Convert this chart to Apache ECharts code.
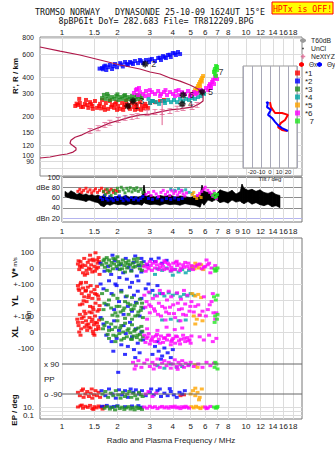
<!DOCTYPE html>
<html><head><meta charset="utf-8">
<script src="https://cdn.jsdelivr.net/npm/echarts@6/dist/echarts.min.js"></script>
<style>html,body{margin:0;padding:0;background:#fff}#c{width:335px;height:451px}</style>
</head><body><div id="c"></div><script>
// ---------- tick labels ----------
const FREQ_TICKS = [1,1.5,2,3,4,5,6,7,8,10,12,14,16,18];
const FREQ_TICKS_MID = [1,1.5,2,3,4,5,6,7,8,9,10,12,14,16,18];
const HEIGHT_TICKS = [80,90,100,120,150,200,300,400,600,800];
const DBE_TICKS = [20,40,60,80,100];
const TRACES = ['*1','*2','*3','*4','*5','*6','7'];

// ---------- profile (MHz, km) ----------
const profileNe = [[0.759,95.5],[0.861,97.2],[0.975,100.7],[1.065,102.5],[1.148,106],[1.191,110],[1.191,114],[1.133,120],[1.105,124],[1.118,131],[1.177,138],[1.285,144],[1.420,154],[1.609,165],[1.823,178],[2.067,187],[2.342,197],[2.654,205],[3.008,208],[3.409,216],[3.863,224],[4.378,228],[5.15,236],[5.55,249],[5.84,262],[5.84,291],[5.48,324],[4.96,348],[4.38,373],[3.86,394],[3.41,423],[3.01,438],[2.65,462],[2.07,496],[1.61,542],[1.25,592],[0.975,635],[0.759,682]];
const nextyz = [[1.42,154],[1.57,162],[1.71,171],[1.82,178],[2.02,187],[2.20,194],[2.40,197],[2.56,201],[2.90,212],[3.20,216],[3.50,216],[3.86,220],[4.22,228],[4.55,232],[5.09,236],[5.42,244]];
const nextyzErr = [[3.50,171],[3.50,267]];
// tilt (deg, km)
const thetaX = [[0,257],[1.1,235],[5.6,212],[13.3,212],[20,205],[16.7,187],[12.2,178],[8.9,165],[13.3,157],[18.9,154]];
const thetaY = [[-4.4,253],[-2.2,257],[-3.3,235],[1.1,224],[-2.2,205],[2.2,194],[5.6,181],[8.9,171],[13.3,162],[20,154]];

// ---------- echo heights R' (MHz, km) ----------
const hgt1 = [[1.22,244],[1.25,253],[1.30,236],[1.33,249],[1.39,232],[1.42,257],[1.46,240],[1.51,262],[1.55,232],[1.61,249],[1.65,267],[1.69,236],[1.73,253],[1.78,228],[1.82,262],[1.87,244],[1.92,232],[1.97,257],[2.02,240],[2.07,228],[2.12,253],[2.17,236],[2.23,262],[2.28,244],[2.34,228],[2.40,253],[2.46,236],[2.52,249],[2.59,228],[2.65,257],[2.72,240],[2.83,249],[2.93,232],[3.01,253],[3.20,257],[3.41,262],[3.58,267],[1.24,272],[1.35,267],[1.18,240],[1.27,236],[1.37,244],[1.47,228],[1.59,240],[1.71,224],[1.85,236],[1.99,224],[2.15,224],[2.31,236],[2.49,224],[2.69,224],[2.86,240],[1.20,250],[1.44,248],[1.63,230],[1.94,248],[2.20,245],[2.55,240],[2.78,230],[3.10,262]];
const hgt2 = [[1.65,470],[1.69,483],[1.74,454],[1.78,477],[1.82,496],[1.87,462],[1.94,505],[1.99,477],[2.07,513],[2.14,483],[2.20,523],[2.28,496],[2.34,523],[2.43,505],[2.49,532],[2.59,513],[2.65,542],[2.76,513],[2.86,542],[2.97,523],[3.08,552],[3.20,532],[3.33,561],[3.45,542],[3.54,581],[3.67,561],[3.76,592],[3.90,571],[4.00,613],[4.16,592],[4.27,624],[4.38,602],[1.72,490],[1.90,485],[2.10,500],[2.38,515],[2.70,530],[3.00,545],[3.40,565],[3.85,595],[1.67,460],[2.25,505],[1.60,465],[4.10,610],[3.60,570]];
const hgt3 = [[1.65,276],[1.69,292],[1.73,272],[1.78,286],[1.82,267],[1.87,281],[1.92,272],[1.97,286],[2.02,267],[2.07,281],[2.12,272],[2.17,286],[2.23,267],[2.28,281],[2.34,272],[2.40,286],[2.46,267],[2.52,281],[2.59,272],[2.65,286],[2.72,276],[1.76,297],[2.20,291],[2.00,295],[2.55,292]];
const hgt4 = [[3.01,253],[3.12,262],[3.24,257],[3.37,249],[3.50,262],[3.63,253],[3.77,267],[3.91,257],[4.06,267],[4.22,257],[4.38,272],[4.55,262],[4.72,272],[4.90,267],[5.09,276],[5.28,272],[5.48,281],[5.69,286],[5.91,297],[3.08,262],[3.58,262],[2.95,272]];
const hgt5 = [[5.09,297],[5.22,307],[5.28,318],[5.42,330],[5.48,342],[5.55,354],[5.62,367],[5.69,380],[5.77,394],[5.84,408],[5.35,302],[5.62,342],[5.50,320],[5.75,370]];
const hgt6 = [[2.46,302],[2.52,318],[2.59,291],[2.65,307],[2.76,297],[2.86,313],[2.97,291],[3.08,307],[3.20,297],[3.33,313],[3.45,297],[3.58,307],[3.72,291],[3.86,307],[4.01,297],[4.16,313],[4.32,291],[4.49,307],[4.66,297],[4.84,313],[5.02,297],[5.22,307],[5.42,302],[5.62,318],[5.84,313],[6.06,330],[6.22,318],[6.29,342],[6.37,354],[6.45,330],[6.54,367],[6.62,380],[6.70,354],[6.78,394],[6.87,408],[6.96,387],[2.55,324],[2.83,286],[3.41,286],[4.11,286],[4.96,286],[2.62,330],[3.00,318],[3.65,318],[4.30,318],[5.30,295],[6.40,345]];
const hgt7 = [[6.70,438],[6.78,462],[6.87,487],[6.96,454],[6.78,423],[6.87,408],[6.96,479],[6.75,450]];
const markIds = ['1','2','3','4','5','6'];
const markPts = [[2.28,240],[2.83,505],[2.43,262],[4.49,249],[5.77,307],[4.55,291]];
const mark7 = [[6.96,438]];

// ---------- amplitude dBe ----------
const ampFreq = [1.038,1.078,1.119,1.162,1.206,1.253,1.300,1.350,1.402,1.456,1.511,1.569,1.629,1.691,1.756,1.823,1.917,2.015,2.119,2.227,2.342,2.462,2.588,2.721,2.790,2.861,3.008,3.202,3.409,3.629,3.863,4.113,4.378,4.661,4.962,5.283,5.623,5.766,5.912,6.215,6.535,6.871,7.222,7.593,7.983,8.393,8.824,9.277,9.513,9.753,10.25,10.78,11.33,11.91,12.52,13.17,13.85,14.56,15.30];
const ampHi = [72,68,73,70,66,69,65,67,64,66,63,65,62,64,60,62,60,63,61,64,60,62,61,63,84,62,65,61,64,62,65,61,63,62,60,63,64,84,72,70,68,66,75,72,70,74,67,71,86,78,74,76,72,75,70,68,71,66,64];
const ampLo = [62,60,58,57,56,55,54,52,55,53,51,50,44,42,47,45,48,46,47,45,48,46,47,45,50,48,46,47,45,48,46,47,45,48,46,45,41,50,45,55,52,56,50,52,49,55,51,53,50,48,52,47,50,46,44,47,42,44,40];
const amp1 = [[1.22,72],[1.25,76],[1.28,70],[1.31,74],[1.35,78],[1.38,71],[1.42,75],[1.45,69],[1.49,73],[1.52,77],[1.56,70],[1.60,74],[1.64,78],[1.68,71],[1.72,75],[1.76,69],[1.80,73],[1.85,76],[1.90,70],[1.95,74],[2.00,72]];
const amp2 = [[1.62,60],[1.66,56],[1.70,64],[1.74,58],[1.78,55],[1.82,62],[1.86,57],[1.90,54],[1.95,60],[2.00,56],[2.05,63],[2.10,58],[2.15,54],[2.20,61],[2.25,57],[2.30,55],[2.38,60],[2.45,56],[2.52,59],[2.60,55],[2.68,58],[2.75,62],[2.95,58],[3.10,56],[3.30,59],[3.50,55],[3.70,58],[3.90,56],[4.10,59],[4.30,56],[4.50,58]];
const amp3 = [[1.68,72],[1.72,66],[1.76,76],[1.80,70],[1.85,64],[1.90,74],[1.95,68],[2.00,78],[2.05,72],[2.10,80],[2.15,75],[2.20,69],[2.25,78],[2.30,73],[2.35,79],[2.40,71],[2.45,77],[2.50,74],[2.55,79],[2.60,72],[2.68,76],[2.75,70]];
const amp4 = [[3.90,76],[4.10,74],[4.30,77],[4.50,73],[4.70,75],[4.90,70],[5.10,68]];
const amp5 = [[5.10,66],[5.25,62],[5.40,58],[5.55,64],[5.70,60],[5.20,70]];
const amp6 = [[2.86,66],[2.95,70],[3.05,64],[3.15,72],[3.25,67],[3.35,62],[3.45,70],[3.55,74],[3.65,66],[3.75,71],[3.85,64],[3.95,73],[4.05,68],[4.15,72],[4.25,65],[4.35,70],[4.45,74],[4.55,67],[4.65,63],[4.75,69],[5.45,64],[5.60,68],[5.75,72],[5.90,76],[6.00,80],[6.20,74],[6.35,70],[6.50,66],[6.60,62],[6.90,58],[6.70,72]];
const amp7 = [[6.60,64],[6.75,68],[6.90,62],[7.00,66],[6.80,60]];

// ---------- V* (m/s) ----------
const vst1 = [[1.22,25],[1.24,-10],[1.26,40],[1.28,5],[1.30,-30],[1.32,60],[1.34,15],[1.36,-15],[1.38,35],[1.40,0],[1.42,80],[1.44,20],[1.46,-25],[1.48,45],[1.50,10],[1.52,95],[1.54,-5],[1.56,30],[1.58,65],[1.60,-40],[1.47,55],[1.33,-45],[1.25,10],[1.55,50],[1.43,-8],[1.23,45],[1.29,20],[1.37,-35],[1.41,50],[1.51,-20],[1.57,5],[1.59,40]];
const vst2 = [[1.62,30],[1.70,-20],[1.78,10],[1.85,-40],[1.93,45],[2.00,-5],[2.08,20],[2.15,-30],[2.22,60],[2.30,5],[2.38,-15],[2.45,35],[2.55,-50],[2.62,15],[2.70,-25],[2.78,40],[1.88,80],[2.25,-70],[2.50,75],[2.40,-90],[2.05,-60],[1.95,-100],[2.60,-80],[2.70,60],[3.05,55],[3.20,40],[3.35,62],[3.50,30],[3.70,48],[2.90,20]];
const vst3 = [[1.65,20],[1.68,45],[1.71,5],[1.74,30],[1.77,-15],[1.80,50],[1.83,15],[1.86,35],[1.89,-5],[1.92,25],[1.95,55],[1.98,10],[2.02,40],[2.06,-10],[2.10,30],[2.14,50],[2.18,15],[2.22,35],[2.26,0],[2.30,45],[2.34,20],[2.38,-20],[2.42,30],[2.46,55],[2.50,10],[2.55,40],[2.60,20],[2.65,-5],[2.70,35],[2.75,15],[1.75,65],[2.00,70],[2.20,-25],[1.70,55],[1.82,-20],[1.90,60],[2.04,20],[2.12,-5],[2.28,25],[2.44,5],[2.58,60],[2.72,-15]];
const vst4 = [[3.30,-5],[3.50,-15],[3.70,0],[3.90,-20],[4.10,-8],[4.30,-25],[4.50,-10],[4.70,-30],[4.90,-15],[5.10,0],[3.20,-40],[4.00,-45]];
const vst5 = [[5.10,10],[5.25,-5],[5.40,15],[5.55,0],[5.70,20],[5.85,-10],[5.30,30]];
const vst6 = [[2.80,10],[2.88,25],[2.96,-5],[3.04,15],[3.12,30],[3.20,0],[3.28,20],[3.36,-10],[3.45,25],[3.54,10],[3.63,35],[3.72,-5],[3.82,20],[3.92,5],[4.02,30],[4.12,-10],[4.22,15],[4.32,25],[4.43,0],[4.55,20],[4.67,35],[4.80,10],[4.93,-5],[5.05,15],[5.30,10],[5.60,25],[5.90,5],[6.20,20],[6.50,0],[6.80,15],[3.00,40],[3.60,45],[4.20,42],[2.85,-20],[3.90,-18],[6.10,50],[6.40,-30],[2.92,5],[3.08,-15],[3.24,40],[3.40,5],[3.58,-10],[3.76,30],[3.96,-10],[4.16,35],[4.38,-15],[4.60,5],[4.86,30],[5.15,-10],[5.45,20],[5.75,-5],[6.00,10],[6.30,30]];
const vst7 = [[6.75,-5],[6.90,-15],[7.00,0],[6.80,-20]];

// ---------- YL (km) ----------
const yl1 = [[1.22,90],[1.24,60],[1.26,100],[1.28,40],[1.30,75],[1.32,20],[1.34,55],[1.36,-10],[1.38,80],[1.40,30],[1.42,-40],[1.44,50],[1.46,10],[1.48,-60],[1.50,65],[1.52,-20],[1.54,35],[1.56,-70],[1.58,5],[1.60,-35],[1.35,110],[1.45,-80],[1.55,85],[1.29,-25],[1.23,70],[1.27,110],[1.31,-5],[1.35,60],[1.39,15],[1.43,90],[1.47,-45],[1.51,40],[1.57,25],[1.59,-60],[1.25,-30],[1.41,-75]];
const yl2 = [[1.62,100],[1.68,70],[1.74,-30],[1.80,120],[1.86,40],[1.92,-60],[1.98,90],[2.04,-10],[2.10,60],[2.16,-90],[2.22,20],[2.28,-40],[2.34,80],[2.40,-70],[2.46,30],[2.52,-15],[2.58,55],[2.64,-100],[2.70,10],[2.76,-50],[2.85,70],[2.95,100],[3.10,60],[3.30,90],[3.50,40]];
const yl3 = [[1.65,40],[1.70,-20],[1.75,60],[1.80,0],[1.85,-50],[1.90,30],[1.95,-80],[2.00,10],[2.05,-40],[2.10,50],[2.15,-65],[2.20,-10],[2.25,25],[2.30,-90],[2.35,-30],[2.40,15],[2.45,-55],[2.50,-100],[2.55,-20],[2.60,-75],[2.65,5],[2.70,-45],[2.75,-110],[2.00,-100],[2.20,-115],[2.40,-120],[1.68,-60],[1.78,-30],[1.88,-95],[1.98,-40],[2.08,-75],[2.18,-50],[2.28,-20],[2.38,-60],[2.48,-35],[2.58,-95],[2.68,-65],[2.72,-20]];
const yl4 = [[3.00,45],[3.20,30],[3.40,40],[3.60,25],[3.80,45],[4.00,30],[4.20,40],[4.40,20],[4.60,35],[4.80,25],[5.00,40],[5.20,30],[3.50,-125],[3.90,-120],[4.30,-130],[4.70,-125]];
const yl5 = [[5.10,40],[5.30,25],[5.50,35],[5.70,15],[5.20,-100],[5.40,-120],[5.60,-95],[5.80,-130],[5.30,-150]];
const yl6 = [[2.80,30],[2.88,-10],[2.96,50],[3.04,-40],[3.12,10],[3.20,-70],[3.28,25],[3.36,-20],[3.45,-100],[3.54,40],[3.63,-50],[3.72,0],[3.82,-85],[3.92,20],[4.02,-30],[4.12,-110],[4.22,45],[4.32,-60],[4.43,5],[4.55,-90],[4.67,-25],[4.80,30],[4.93,-70],[5.05,-10],[5.30,-40],[5.60,-95],[5.90,20],[6.20,-60],[6.50,-10],[6.80,-120],[3.00,-80],[3.40,60],[3.80,55],[4.60,60],[2.90,-120],[3.65,-125],[4.40,-130],[6.60,40],[6.90,-80],[2.84,-45],[2.98,-30],[3.16,-55],[3.32,-90],[3.50,-40],[3.68,-75],[3.86,-45],[4.06,-85],[4.26,-20],[4.48,-55],[4.72,-95],[4.98,-40],[5.20,-75],[5.50,-30],[5.80,-70],[6.05,-100],[6.35,-30],[6.65,-80]];
const yl7 = [[6.70,20],[6.85,0],[7.00,30],[6.80,-100],[6.95,-120],[6.75,-140],[7.00,-90]];

// ---------- XL (km) ----------
const xl1 = [[1.21,80],[1.23,40],[1.25,110],[1.27,20],[1.29,60],[1.31,95],[1.33,30],[1.35,70],[1.37,10],[1.39,50],[1.41,90],[1.43,25],[1.45,65],[1.47,5],[1.49,45],[1.51,100],[1.53,15],[1.55,55],[1.57,35],[1.59,75],[1.32,130],[1.48,-10],[1.26,-20],[1.22,60],[1.28,85],[1.34,115],[1.40,30],[1.46,80],[1.52,60],[1.58,20],[1.24,0],[1.36,45],[1.50,-20]];
const xl2 = [[1.62,90],[1.68,50],[1.74,-20],[1.80,30],[1.86,-60],[1.92,70],[1.98,-40],[2.04,10],[2.10,-80],[2.16,40],[2.22,-10],[2.28,-90],[2.34,60],[2.40,-30],[2.46,-110],[2.52,20],[2.58,-70],[2.64,-130],[2.70,0],[2.76,-50],[2.20,-140],[2.50,-160],[1.90,-120],[3.20,-90],[3.35,-120],[3.50,-150],[3.60,-100],[3.75,-130],[3.90,-160],[3.45,-170],[3.30,-60],[4.00,-110],[3.10,-140]];
const xl3 = [[1.65,80],[1.70,40],[1.75,60],[1.80,10],[1.85,50],[1.90,-20],[1.95,30],[2.00,70],[2.05,-10],[2.10,40],[2.15,0],[2.20,55],[2.25,-30],[2.30,20],[2.35,-5],[2.40,45],[2.45,-25],[2.50,15],[2.55,-35],[2.60,25],[2.65,-15],[2.70,35],[2.75,-30],[1.80,-40],[2.10,-50],[2.40,-45],[1.95,-60],[1.67,20],[1.77,-15],[1.87,15],[1.97,-25],[2.07,25],[2.17,-40],[2.27,10],[2.37,-45],[2.47,5],[2.57,-20],[2.67,-50],[2.73,5]];
const xl4 = [];
const xl5 = [];
const xl6 = [[2.80,-20],[2.88,-40],[2.96,-10],[3.04,-55],[3.12,-30],[3.20,-60],[3.28,-15],[3.36,-45],[3.45,-25],[3.54,-65],[3.63,-35],[3.72,-50],[3.82,-20],[3.92,-60],[4.02,-40],[4.12,-70],[4.22,-30],[4.32,-55],[4.43,-45],[4.55,-20],[4.67,-60],[4.80,-35],[4.93,-50],[5.05,-25],[2.90,20],[3.30,10],[3.70,30],[4.10,15],[4.50,25],[3.00,-75],[3.90,-80],[5.60,-30],[5.90,-50],[6.30,-20],[6.60,-60],[6.90,-40],[2.84,-65],[2.92,-30],[3.08,-45],[3.24,-25],[3.40,-70],[3.58,-40],[3.76,-20],[3.96,-50],[4.16,-25],[4.38,-75],[4.62,-40],[4.86,-55],[5.00,-70]];
const xl7 = [];

// ---------- PP (deg) ----------
const pp1 = [[1.22,-80],[1.25,-100],[1.28,-70],[1.31,-110],[1.34,-90],[1.37,-75],[1.40,-105],[1.43,-85],[1.46,-115],[1.49,-95],[1.52,-70],[1.55,-100],[1.58,-80],[1.61,-110],[1.30,-60],[1.45,-60],[4.40,-100],[4.60,-95]];
const pp2 = [[1.64,-70],[1.72,-100],[1.80,-60],[1.88,-90],[1.96,-115],[2.04,-65],[2.12,-95],[2.20,-70],[2.28,-110],[2.36,-60],[2.44,-80],[2.52,-65],[2.62,-90],[2.72,-70],[2.85,-100],[3.00,-80],[3.15,-95],[3.30,-70],[3.45,-105],[3.60,-85],[3.75,-100],[3.90,-75],[4.05,-95],[4.20,-110],[4.35,-80],[4.50,-90],[4.65,-70],[3.05,-60],[3.40,-60],[3.85,-58],[2.02,40]];
const pp3 = [[1.66,-90],[1.72,-75],[1.78,-110],[1.84,-85],[1.90,-100],[1.96,-70],[2.02,-95],[2.08,-115],[2.14,-80],[2.20,-105],[2.26,-90],[2.32,-75],[2.38,-110],[2.44,-85],[2.50,-100],[2.56,-120],[2.62,-80],[2.68,-95],[2.74,-105]];
const pp4 = [[3.30,80],[3.60,65],[3.90,90],[4.20,70],[4.50,75],[4.90,85]];
const pp5 = [[5.30,85],[5.45,70],[5.00,-90],[5.15,-70],[5.30,-100],[5.45,-80],[5.60,-110],[5.75,-60],[5.30,-55],[5.55,-125]];
const pp6 = [[2.43,100],[2.52,80],[2.60,110],[2.70,70],[2.80,95],[2.90,115],[3.00,75],[3.10,100],[3.20,85],[3.30,120],[3.40,70],[3.50,95],[3.60,110],[3.70,80],[3.80,100],[3.90,65],[4.00,90],[4.10,115],[4.20,75],[4.30,100],[4.40,85],[4.50,110],[4.60,70],[4.70,95],[4.85,80],[5.00,100],[5.20,75],[5.50,90],[5.80,70],[6.10,100],[6.40,80],[6.70,95],[2.48,60],[3.15,60],[4.25,58],[2.85,-90],[2.95,-75],[3.10,-105],[3.25,-85]];
const pp7 = [[6.75,70],[6.90,90],[7.00,60],[6.80,100]];
const ppLevels = [90,-90];

// ---------- EP (deg) ----------
const ep1 = [[1.22,10],[1.26,20],[1.30,5],[1.34,15],[1.38,8],[1.42,25],[1.46,4],[1.50,12],[1.54,6],[1.58,18],[1.62,9],[1.66,3],[1.70,14],[1.28,30],[1.48,2.5]];
const ep2 = [[1.65,15],[1.75,25],[1.85,10],[2.00,20],[2.20,12],[2.40,18],[2.60,22],[2.70,9],[1.92,14]];
const ep3 = [[1.70,5],[1.76,12],[1.82,3],[1.88,8],[1.94,2],[2.00,15],[2.06,4],[2.12,9],[2.18,2.5],[2.24,6],[2.30,12],[2.36,3],[2.42,7],[2.48,2],[2.54,10],[2.60,4],[2.66,6],[2.72,2.5]];
const ep4 = [];
const ep5 = [[5.05,12],[5.20,6],[5.35,15],[5.50,8],[5.65,4],[5.80,10]];
const ep6 = [[2.80,10],[2.90,5],[3.00,15],[3.10,7],[3.20,12],[3.30,4],[3.40,9],[3.50,14],[3.60,6],[3.70,11],[3.80,5],[3.90,13],[4.00,8],[4.10,16],[4.20,6],[4.30,10],[4.40,4],[4.50,12],[4.60,7],[4.70,15],[4.80,9],[4.90,5],[6.00,10],[6.20,6],[6.40,14],[6.10,4]];
const ep7 = [[6.70,10],[6.85,5],[7.00,14],[6.95,7]];

// ================= build =================
const LG = Math.log10;
const FONT = 'Liberation Sans, Arial, sans-serif';
const COLORS = ['#ff0000','#0000ff','#1e8c1e','#00a5a5','#ffa500','#ff00ff','#22e622'];
const XMIN = LG(0.759), XMAX = LG(20.15);
const FT = FREQ_TICKS.map(LG), FTM = FREQ_TICKS_MID.map(LG), HT = HEIGHT_TICKS.map(LG);
const fmtF = v => String(Math.round(Math.pow(10, v) * 10) / 10);
const AXL = {fontSize: 8, color: '#222', fontFamily: FONT, hideOverlap: false};
const GRIDC = '#dcdcdc';

const hgtSets = [hgt1,hgt2,hgt3,hgt4,hgt5,hgt6,hgt7];
const ampSets = [amp1,amp2,amp3,amp4,amp5,amp6,amp7];
const vstSets = [vst1,vst2,vst3,vst4,vst5,vst6,vst7];
const ylSets = [yl1,yl2,yl3,yl4,yl5,yl6,yl7];
const xlSets = [xl1,xl2,xl3,xl4,xl5,xl6,xl7];
const ppSets = [pp1,pp2,pp3,pp4,pp5,pp6,pp7];
const epSets = [ep1,ep2,ep3,ep4,ep5,ep6,ep7];

function sc(name, color, data, ax, size, ty) {
  return {type: 'scatter', name, xAxisIndex: ax, yAxisIndex: ax, symbol: 'rect', symbolSize: size,
    itemStyle: {color}, silent: true, z: 2,
    data: data.map(p => [LG(p[0]), ty ? ty(p[1]) : p[1]])};
}

const cRect = {left: 40, top: 238, width: 262, height: 181};
const grid = [
  {left: 40, top: 37, width: 262, height: 139, show: true, borderColor: '#888', borderWidth: 1},
  {left: 243, top: 66, width: 54, height: 102, show: true, borderColor: '#999', borderWidth: 1, backgroundColor: '#fff', z: 3},
  {left: 62, top: 177, width: 240, height: 45, show: true, borderColor: '#777', borderWidth: 1},
  Object.assign({show: true, borderColor: '#777', borderWidth: 1}, cRect),
  Object.assign({}, cRect), Object.assign({}, cRect), Object.assign({}, cRect), Object.assign({}, cRect)
].map(g => Object.assign({containLabel: false, outerBoundsMode: 'none'}, g));

const xAxis = [
  {gridIndex: 0, type: 'value', position: 'top', min: XMIN, max: XMAX, axisLine: {show: false},
    axisTick: {show: false, customValues: FT}, axisLabel: Object.assign({}, AXL, {customValues: FT, formatter: fmtF, margin: 1}),
    splitLine: {show: true, lineStyle: {color: GRIDC}}},
  {gridIndex: 1, type: 'value', min: -30, max: 30, interval: 10, z: 4, axisLine: {show: false}, axisTick: {show: false},
    axisLabel: {fontSize: 6, color: '#222', margin: 1, showMinLabel: false, showMaxLabel: false, hideOverlap: false, fontFamily: FONT},
    splitLine: {show: true, lineStyle: {color: '#a8a8b8'}},
    name: 'Tilt / deg', nameLocation: 'middle', nameGap: 8, nameTextStyle: {fontSize: 6, color: '#222', fontFamily: FONT}},
  {gridIndex: 2, type: 'value', position: 'bottom', min: 0, max: XMAX, axisLine: {show: false},
    axisTick: {show: false, customValues: FTM}, axisLabel: Object.assign({}, AXL, {customValues: FTM, formatter: fmtF, margin: 5}),
    splitLine: {show: true, lineStyle: {color: GRIDC}}},
  {gridIndex: 3, type: 'value', position: 'bottom', min: XMIN, max: XMAX, axisLine: {show: false},
    axisTick: {show: false, customValues: FT}, axisLabel: Object.assign({}, AXL, {customValues: FT, formatter: fmtF, margin: 3}),
    splitLine: {show: true, lineStyle: {color: GRIDC}},
    name: 'Radio and Plasma Frequency / MHz', nameLocation: 'middle', nameGap: 17,
    nameTextStyle: {fontSize: 8, color: '#222', fontFamily: FONT}},
  {gridIndex: 4, type: 'value', min: XMIN, max: XMAX, show: false},
  {gridIndex: 5, type: 'value', min: XMIN, max: XMAX, show: false},
  {gridIndex: 6, type: 'value', min: XMIN, max: XMAX, show: false},
  {gridIndex: 7, type: 'value', min: XMIN, max: XMAX, show: false}
];

function yc(gi, min, max, ticks, labels, fmt, extra) {
  return Object.assign({gridIndex: gi, type: 'value', min, max, axisLine: {show: false},
    axisTick: {show: false, customValues: ticks},
    axisLabel: Object.assign({}, AXL, {customValues: labels, formatter: fmt, margin: 6}),
    splitLine: {show: true, lineStyle: {color: GRIDC}}}, extra || {});
}
const yAxis = [
  yc(0, 1.84155, 2.91078, HT, HT, v => String(Math.round(Math.pow(10, v)))),
  {gridIndex: 1, type: 'value', min: 1.903, max: 2.6876, show: false},
  yc(2, 12.2, 100, DBE_TICKS, DBE_TICKS, v => v === 80 ? 'dBe 80' : v === 20 ? 'dBn 20' : String(v),
     {splitLine: {show: true, lineStyle: {color: ['#b4b4ee','#8c8c8c','#8c8c8c','#8c8c8c','#8c8c8c']}}}),
  yc(3, -943.75, 187.5, [0,100], [0,100], v => String(v)),
  yc(4, -743.75, 387.5, [-100,0,100], [-100,0,100], v => v === 0 ? '0' : '+-100'),
  yc(5, -543.75, 587.5, [-100,0], [-100,0], v => String(v)),
  yc(6, -240, 846, [-90,0,90], [-90,0,90], v => v === 90 ? 'x 90' : v === 0 ? 'PP' : 'o -90',
     {splitLine: {show: false}}),
  yc(7, -2, 43.25, [-1,0,1], [-1,1], v => v === 1 ? '10.' : '0.1')
];
yAxis[0].axisLabel.fontSize = 7;
yAxis[0].axisLabel.lineHeight = 6;
yAxis[2].axisLabel.margin = 2;
yAxis[2].axisLabel.fontSize = 7.5;
yAxis[6].axisLabel.inside = true;
yAxis[6].axisLabel.margin = 4;

const series = [];
series.push({type: 'line', name: 'T60dB', xAxisIndex: 0, yAxisIndex: 0, data: [], symbol: 'none', lineStyle: {color: '#9a9a9a', width: 2}, itemStyle: {color: '#9a9a9a'}});
series.push({type: 'scatter', name: 'UnCl', xAxisIndex: 0, yAxisIndex: 0, data: [], symbol: 'rect', symbolSize: 2, itemStyle: {color: '#000'}});
series.push({type: 'line', name: 'profile', xAxisIndex: 0, yAxisIndex: 0, symbol: 'none', silent: true, z: 3,
  lineStyle: {color: '#b0184a', width: 1.2}, data: profileNe.map(p => [LG(p[0]), LG(p[1])])});
series.push({type: 'line', name: 'nexterr', xAxisIndex: 0, yAxisIndex: 0, symbol: 'none', silent: true, z: 3,
  lineStyle: {color: '#e0608e', width: 1}, data: nextyzErr.map(p => [LG(p[0]), LG(p[1])])});
series.push({type: 'scatter', name: 'NeXtYZ', xAxisIndex: 0, yAxisIndex: 0, silent: true, z: 3,
  symbol: 'path://M0,0H5V1H3V6H5V7H0V6H2V1H0Z', symbolSize: [5, 6], itemStyle: {color: '#e0608e'},
  data: nextyz.map(p => [LG(p[0]), LG(p[1])])});
hgtSets.forEach((d, i) => series.push(sc(TRACES[i], COLORS[i], d, 0, 4, LG)));
series.push({type: 'scatter', name: 'marks', xAxisIndex: 0, yAxisIndex: 0, silent: true, z: 6,
  symbol: 'path://M4,0V8M0,4H8M1.2,1.2L6.8,6.8M6.8,1.2L1.2,6.8', symbolSize: 7,
  itemStyle: {color: 'none', borderColor: '#000', borderWidth: 1.6},
  label: {show: true, position: 'right', distance: 0, formatter: '{b}', fontSize: 9, color: '#000', fontFamily: FONT},
  data: markPts.map((p, i) => ({name: markIds[i], value: [LG(p[0]), LG(p[1])]}))});
series.push({type: 'scatter', name: 'mark7', xAxisIndex: 0, yAxisIndex: 0, silent: true, z: 6,
  symbolSize: 1, itemStyle: {color: 'rgba(0,0,0,0)'},
  label: {show: true, position: 'right', distance: 1, formatter: '7', fontSize: 9, color: '#000', fontFamily: FONT},
  data: mark7.map(p => [LG(p[0]), LG(p[1])])});
series.push({type: 'line', name: 'Θx', xAxisIndex: 1, yAxisIndex: 1, symbol: 'none', z: 6, silent: true,
  lineStyle: {color: '#ff0000', width: 2}, itemStyle: {color: '#ff0000'}, data: thetaX.map(p => [p[0], LG(p[1])])});
series.push({type: 'line', name: 'Θy', xAxisIndex: 1, yAxisIndex: 1, symbol: 'none', z: 6, silent: true,
  lineStyle: {color: '#0000ff', width: 2}, itemStyle: {color: '#0000ff'}, data: thetaY.map(p => [p[0], LG(p[1])])});
// amplitude band (all echoes) between low and high envelope
series.push({type: 'custom', name: 'ampBand', xAxisIndex: 2, yAxisIndex: 2, silent: true, z: 1, clip: true,
  renderItem: (params, api) => {
    const a = api.coord([api.value(0), api.value(1)]);
    const b = api.coord([api.value(0), api.value(2)]);
    const c = api.coord([api.value(3), api.value(5)]);
    const d = api.coord([api.value(3), api.value(4)]);
    return {type: 'polygon', shape: {points: [a, b, c, d]}, style: {fill: '#000', stroke: '#000', lineWidth: 0.6}};
  },
  encode: {x: [0, 3], y: [1, 2, 4, 5]},
  data: ampFreq.slice(0, -1).map((f, i) => [LG(f), ampLo[i], ampHi[i], LG(ampFreq[i + 1]), ampLo[i + 1], ampHi[i + 1]])});
ampSets.forEach((d, i) => series.push(sc(TRACES[i], COLORS[i], d, 2, 3)));
// PP reference lines
ppLevels.forEach(lv => series.push({type: 'line', name: 'pp' + lv, xAxisIndex: 6, yAxisIndex: 6, symbol: 'none', silent: true,
  lineStyle: {color: '#666', width: 1}, data: [[LG(1), lv], [XMAX, lv]]}));
for (let i = 0; i < 7; i++) {
  series.push(sc(TRACES[i], COLORS[i], vstSets[i], 3, [4, 3]));
  series.push(sc(TRACES[i], COLORS[i], ylSets[i], 4, [4, 3]));
  series.push(sc(TRACES[i], COLORS[i], xlSets[i], 5, [4, 3]));
  series.push(sc(TRACES[i], COLORS[i], ppSets[i], 6, [4, 3]));
  series.push(sc(TRACES[i], COLORS[i], epSets[i], 7, [4, 3], LG));
}

const LTXT = {fontSize: 8, color: '#222', fontFamily: FONT, lineHeight: 8};
const legend = [
  {orient: 'vertical', left: 299, top: 37, padding: 0, itemGap: 1, itemWidth: 6, itemHeight: 6,
    textStyle: Object.assign({}, LTXT, {fontSize: 6.8, lineHeight: 7}),
    data: ['T60dB',
      {name: 'UnCl', icon: 'path://M0,0L0,0ZM3,2h2v2h-2zM8,6L8,6Z'},
      {name: 'NeXtYZ', icon: 'path://M0,0L0,0ZM3,0h2v6h-2zM1,2h6v2h-6zM8,6L8,6Z'}]},
  {orient: 'horizontal', left: 298, top: 61, padding: 0, itemGap: 0, itemWidth: 5, itemHeight: 6,
    textStyle: Object.assign({}, LTXT, {fontSize: 6.5, lineHeight: 7}), data: ['Θx']},
  {orient: 'horizontal', left: 316, top: 61, padding: 0, itemGap: 0, itemWidth: 5, itemHeight: 6,
    textStyle: Object.assign({}, LTXT, {fontSize: 6.5, lineHeight: 7}), data: ['Θy']},
  {orient: 'vertical', left: 295, top: 69, padding: 0, itemGap: 0, itemWidth: 5, itemHeight: 5, textStyle: LTXT,
    data: TRACES.map(n => ({name: n, icon: 'rect'})), formatter: n => n === '7' ? '  7' : n}
];

function tx(text, x, y, font, extra) {
  return Object.assign({type: 'text', x, y, silent: true, z: 10,
    style: {text, font, lineHeight: 8, fill: '#111', align: 'center', verticalAlign: 'middle', textAlign: 'center', textVerticalAlign: 'middle'}}, extra || {});
}
const ROT = {rotation: Math.PI / 2};
const graphic = [
  tx('TROMSO NORWAY   DYNASONDE 25-10-09 1624UT 15°E', 150, 11.5, '8.3px "DejaVu Sans Mono"'),
  tx('8pBP6It DoY= 282.683 File= TR812209.BPG', 156, 21, '8.3px "DejaVu Sans Mono"'),
  {type: 'rect', shape: {x: 272, y: 2, width: 61, height: 12}, style: {fill: '#ffff00', stroke: '#ff0000', lineWidth: 1}, z: 10, silent: true},
  {type: 'text', x: 302.5, y: 8.5, z: 11, silent: true, style: {text: 'HPTx is OFF!', font: '8.2px "DejaVu Sans Mono"', lineHeight: 8, fill: '#ff0000', align: 'center', verticalAlign: 'middle', textAlign: 'center', textVerticalAlign: 'middle'}},
  tx("R', R / km", 15, 76, 'bold 8px ' + FONT, ROT),
  tx('V*', 15, 273, 'bold 9px ' + FONT, ROT),
  tx('m/s', 15, 262, '6px ' + FONT, ROT),
  tx('YL', 15, 301, 'bold 9px ' + FONT, ROT),
  tx('/km', 28, 316, '7px ' + FONT, ROT),
  tx('XL', 15, 332, 'bold 9px ' + FONT, ROT),
  tx('EP / deg', 14, 410, 'bold 8px ' + FONT, ROT)
];

const chart = echarts.init(document.getElementById('c'), null, {renderer: 'svg', width: 335, height: 451});
chart.setOption({
  animation: false,
  backgroundColor: '#fff',
  textStyle: {fontFamily: FONT},
  grid, xAxis, yAxis, series, legend, graphic
});
</script></body></html>
